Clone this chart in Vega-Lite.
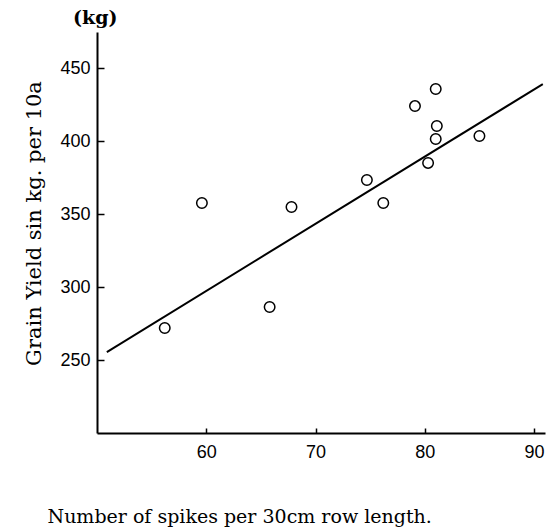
{
  "$schema": "https://vega.github.io/schema/vega-lite/v6.json",
  "width": 448,
  "height": 401,
  "autosize": "none",
  "padding": {"left": 97, "top": 32, "right": 1, "bottom": 96},
  "background": "white",
  "title": {
    "text": "(kg)",
    "anchor": "start",
    "frame": "group",
    "font": "DejaVu Serif",
    "fontSize": 19,
    "fontWeight": "bold",
    "color": "black",
    "dx": -24,
    "offset": 4
  },
  "config": {
    "view": {"stroke": null},
    "axis": {
      "grid": false,
      "domainColor": "black",
      "domainWidth": 2,
      "tickColor": "black",
      "tickWidth": 1.5,
      "labelColor": "black",
      "labelFont": "Liberation Sans",
      "labelFontSize": 18,
      "titleColor": "black",
      "titleFont": "DejaVu Serif",
      "titleFontWeight": "normal"
    }
  },
  "datasets": {
    "points": [
      {"spikes": 81.0, "yield": 435.9},
      {"spikes": 79.1, "yield": 424.2},
      {"spikes": 81.1, "yield": 410.5},
      {"spikes": 81.0, "yield": 401.6},
      {"spikes": 85.0, "yield": 403.7},
      {"spikes": 80.3, "yield": 385.2},
      {"spikes": 74.7, "yield": 373.5},
      {"spikes": 59.6, "yield": 357.7},
      {"spikes": 67.8, "yield": 355.0},
      {"spikes": 76.2, "yield": 357.7},
      {"spikes": 65.8, "yield": 286.4},
      {"spikes": 56.2, "yield": 272.0}
    ],
    "fit": [
      {"spikes": 50.9, "yield": 255.5},
      {"spikes": 90.8, "yield": 439.3}
    ]
  },
  "layer": [
    {
      "data": {"name": "fit"},
      "mark": {"type": "line", "color": "black", "strokeWidth": 2},
      "encoding": {
        "x": {
          "field": "spikes",
          "type": "quantitative",
          "scale": {"domain": [50, 91], "nice": false, "zero": false},
          "axis": {
            "values": [60, 70, 80, 90],
            "tickSize": -5,
            "labelPadding": 15,
            "title": "Number of spikes per 30cm row length.",
            "titleFontSize": 19,
            "titleAnchor": "start",
            "titleAlign": "left",
            "titleX": -50,
            "titleY": 89,
            "titleBaseline": "alphabetic"
          }
        },
        "y": {
          "field": "yield",
          "type": "quantitative",
          "scale": {"domain": [200, 475], "nice": false, "zero": false},
          "axis": {
            "values": [250, 300, 350, 400, 450],
            "tickSize": -7,
            "labelPadding": 14,
            "title": "Grain Yield sin kg. per 10a",
            "titleFontSize": 21,
            "titleAnchor": "middle",
            "titleAlign": "center",
            "titleAngle": -90,
            "titleX": -63,
            "titleY": 191,
            "titleBaseline": "middle"
          }
        }
      }
    },
    {
      "data": {"name": "points"},
      "mark": {"type": "point", "shape": "circle", "filled": false, "color": "black", "strokeWidth": 1.5, "size": 110, "opacity": 1},
      "encoding": {
        "x": {"field": "spikes", "type": "quantitative"},
        "y": {"field": "yield", "type": "quantitative"}
      }
    }
  ]
}
